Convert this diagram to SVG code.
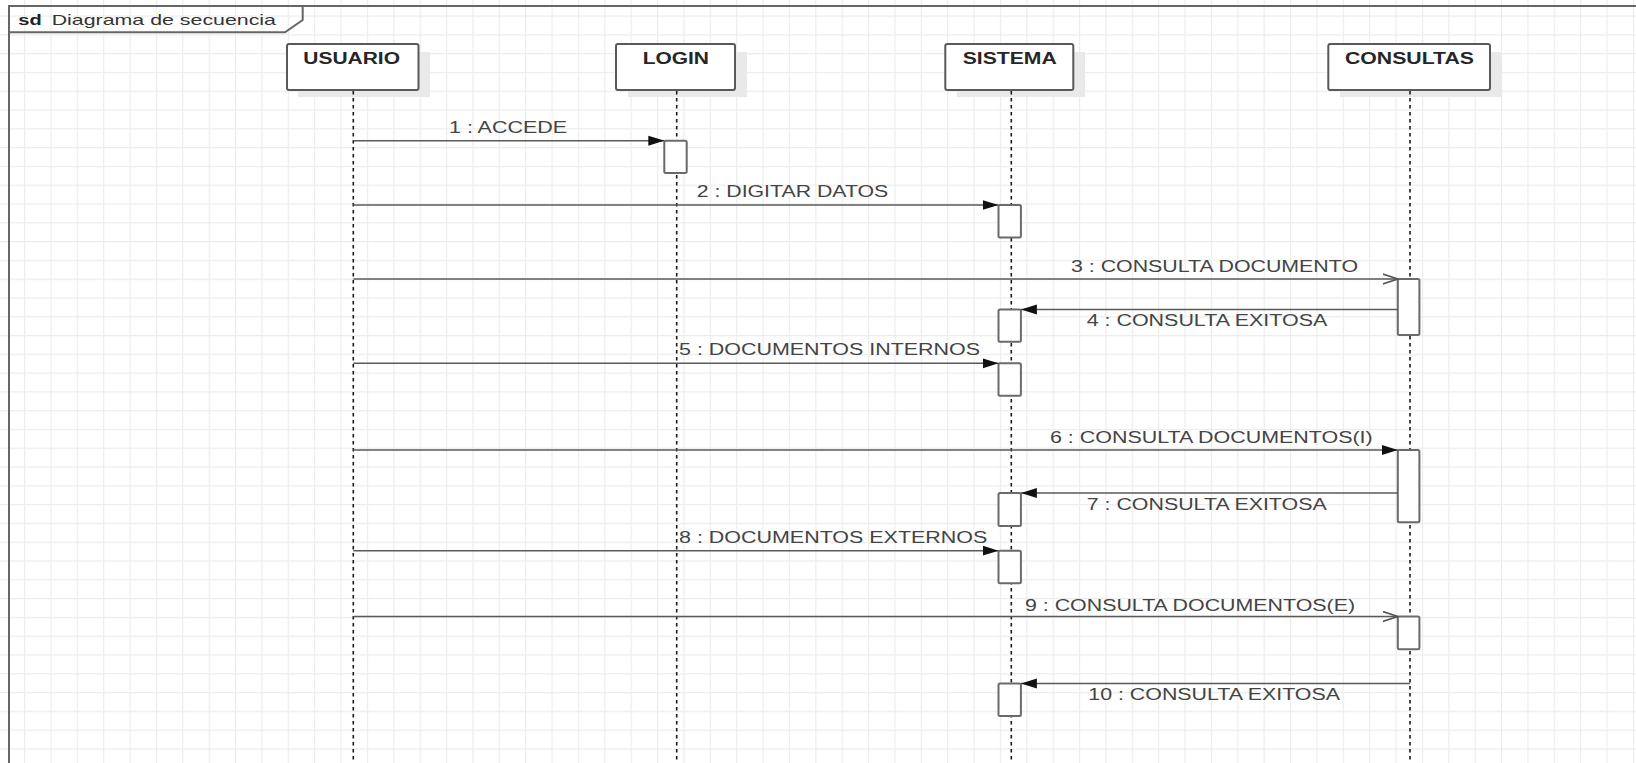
<svg xmlns="http://www.w3.org/2000/svg" width="1636" height="763" viewBox="0 0 1636 763">
<style>
.hdr{font-family:"Liberation Sans",Arial,sans-serif;font-size:16px;font-weight:bold;fill:#262626}
.lbl{font-family:"Liberation Sans",Arial,sans-serif;font-size:16px;fill:#444}
.box{fill:#fff;stroke:#595959;stroke-width:2}
.shadow{fill:#e9e9e9}
.life{stroke:#1a1a1a;stroke-width:1.6;stroke-dasharray:3.5,3.5;fill:none}
.act{fill:#fff;stroke:#6a6a6a;stroke-width:2}
.msg{stroke:#5a5a5a;stroke-width:1.6;fill:none}
.frame{stroke:#666;stroke-width:2;fill:none}
</style>
<defs>
<pattern id="grid" patternUnits="userSpaceOnUse" x="24" y="15.5" width="26.375" height="18.79">
<path d="M0.5 0V18.79M0 0.5H26.375" stroke="#ececec" stroke-width="1.3" fill="none"/>
</pattern>
<marker id="filled" markerWidth="16" markerHeight="12" refX="16" refY="6" orient="auto" markerUnits="userSpaceOnUse">
<path d="M0 1L16 6L0 11Z" fill="#111"/>
</marker>
<marker id="open" markerWidth="16" markerHeight="12" refX="15" refY="6" orient="auto" markerUnits="userSpaceOnUse">
<path d="M0 1L15 6L0 11" fill="none" stroke="#555" stroke-width="1.6"/>
</marker>
</defs>
<rect width="1636" height="763" fill="#fff"/>
<rect width="1636" height="763" fill="url(#grid)"/>

<g id="frame">
<path class="frame" d="M9 763V6H1636"/>
<path class="frame" d="M9 32.3H285L302.7 20V6"/>
<text x="18.3" y="25" font-family="Liberation Sans, Arial, sans-serif" font-size="15" font-weight="bold" fill="#222" textLength="23.4" lengthAdjust="spacingAndGlyphs">sd</text>
<text x="51.7" y="25" font-family="Liberation Sans, Arial, sans-serif" font-size="15" fill="#333" textLength="224.3" lengthAdjust="spacingAndGlyphs">Diagrama de secuencia</text>
</g>

<g id="usuario">
<rect class="shadow" x="298" y="52" width="132" height="45"/>
<rect class="box" x="287" y="44" width="131.5" height="46" rx="2"/>
<text class="hdr" x="303.3" y="64" textLength="96.7" lengthAdjust="spacingAndGlyphs">USUARIO</text>
<line class="life" x1="353.3" y1="91" x2="353.3" y2="763"/>
</g>

<g id="login">
<rect class="shadow" x="628" y="52" width="119" height="45"/>
<rect class="box" x="616" y="44" width="119" height="46" rx="2"/>
<text class="hdr" x="642.7" y="64" textLength="66.3" lengthAdjust="spacingAndGlyphs">LOGIN</text>
<line class="life" x1="676.7" y1="91" x2="676.7" y2="763"/>
<rect class="act" x="664.3" y="140.7" width="22.4" height="32.3" rx="1.5"/>
</g>

<g id="sistema">
<rect class="shadow" x="957" y="52" width="128" height="45"/>
<rect class="box" x="945.3" y="44" width="128" height="46" rx="2"/>
<text class="hdr" x="962.7" y="64" textLength="94" lengthAdjust="spacingAndGlyphs">SISTEMA</text>
<line class="life" x1="1011.3" y1="91" x2="1011.3" y2="763"/>
<rect class="act" x="998.5" y="205" width="22.4" height="32.5" rx="1.5"/>
<rect class="act" x="998.5" y="309.5" width="22.4" height="32.3" rx="1.5"/>
<rect class="act" x="998.5" y="363.3" width="22.4" height="32.4" rx="1.5"/>
<rect class="act" x="998.5" y="493" width="22.4" height="33" rx="1.5"/>
<rect class="act" x="998.5" y="550.7" width="22.4" height="32.6" rx="1.5"/>
<rect class="act" x="998.5" y="683.5" width="22.4" height="32.5" rx="1.5"/>
</g>

<g id="consultas">
<rect class="shadow" x="1340" y="52" width="162" height="45"/>
<rect class="box" x="1328.3" y="44" width="161.7" height="46" rx="2"/>
<text class="hdr" x="1345" y="64" textLength="129" lengthAdjust="spacingAndGlyphs">CONSULTAS</text>
<line class="life" x1="1410" y1="91" x2="1410" y2="763"/>
<rect class="act" x="1397.8" y="279" width="21.6" height="56" rx="1.5"/>
<rect class="act" x="1397.8" y="450" width="21.6" height="72.3" rx="1.5"/>
<rect class="act" x="1397.8" y="616.5" width="21.6" height="32.8" rx="1.5"/>
</g>

<g id="connectors">
<line class="msg" x1="353.3" y1="140.7" x2="664.3" y2="140.7" marker-end="url(#filled)"/>
<text class="lbl" x="449" y="133" textLength="118" lengthAdjust="spacingAndGlyphs">1 : ACCEDE</text>

<line class="msg" x1="353.3" y1="205" x2="998.5" y2="205" marker-end="url(#filled)"/>
<text class="lbl" x="696.7" y="196.7" textLength="191.6" lengthAdjust="spacingAndGlyphs">2 : DIGITAR DATOS</text>

<line class="msg" x1="353.3" y1="279" x2="1397.8" y2="279" marker-end="url(#open)"/>
<text class="lbl" x="1071" y="272.3" textLength="287" lengthAdjust="spacingAndGlyphs">3 : CONSULTA DOCUMENTO</text>

<line class="msg" x1="1397.8" y1="309.5" x2="1020.9" y2="309.5" marker-end="url(#filled)"/>
<text class="lbl" x="1086.7" y="325.7" textLength="240.6" lengthAdjust="spacingAndGlyphs">4 : CONSULTA EXITOSA</text>

<line class="msg" x1="353.3" y1="363.3" x2="998.5" y2="363.3" marker-end="url(#filled)"/>
<text class="lbl" x="679" y="355" textLength="301" lengthAdjust="spacingAndGlyphs">5 : DOCUMENTOS INTERNOS</text>

<line class="msg" x1="353.3" y1="450" x2="1397.8" y2="450" marker-end="url(#filled)"/>
<text class="lbl" x="1050" y="443.3" textLength="322.7" lengthAdjust="spacingAndGlyphs">6 : CONSULTA DOCUMENTOS(I)</text>

<line class="msg" x1="1397.8" y1="493" x2="1020.9" y2="493" marker-end="url(#filled)"/>
<text class="lbl" x="1086.7" y="510" textLength="240" lengthAdjust="spacingAndGlyphs">7 : CONSULTA EXITOSA</text>

<line class="msg" x1="353.3" y1="550.7" x2="998.5" y2="550.7" marker-end="url(#filled)"/>
<text class="lbl" x="679" y="543.3" textLength="308.3" lengthAdjust="spacingAndGlyphs">8 : DOCUMENTOS EXTERNOS</text>

<line class="msg" x1="353.3" y1="616.5" x2="1397.8" y2="616.5" marker-end="url(#open)"/>
<text class="lbl" x="1025" y="610.7" textLength="330" lengthAdjust="spacingAndGlyphs">9 : CONSULTA DOCUMENTOS(E)</text>

<line class="msg" x1="1410" y1="683.5" x2="1020.9" y2="683.5" marker-end="url(#filled)"/>
<text class="lbl" x="1088.3" y="700" textLength="251.7" lengthAdjust="spacingAndGlyphs">10 : CONSULTA EXITOSA</text>
</g>
</svg>
